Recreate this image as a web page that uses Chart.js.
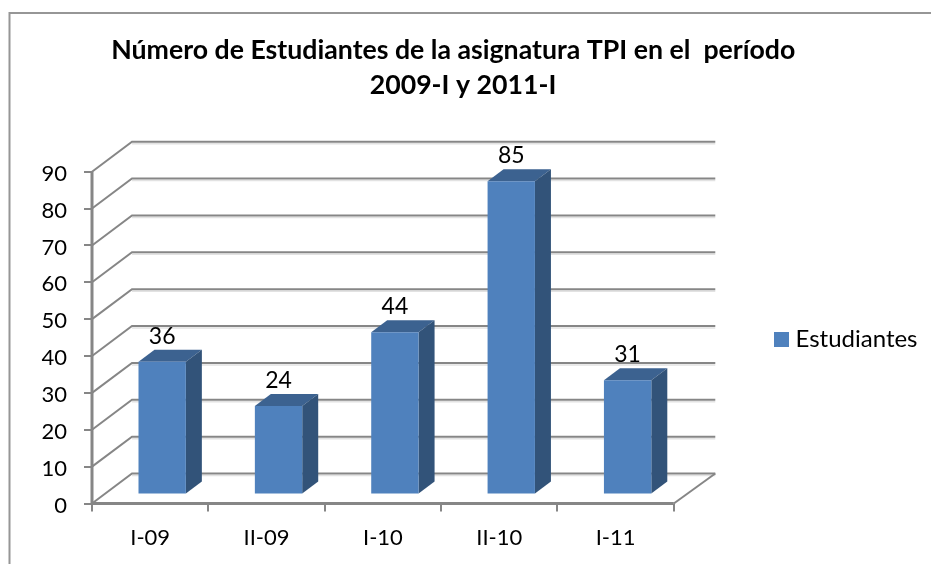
<!DOCTYPE html>
<html><head><meta charset="utf-8">
<style>html,body{margin:0;padding:0;background:#fff;overflow:hidden}#w{position:absolute;left:0;top:0;width:931px;height:564px}</style>
<script src="https://cdn.jsdelivr.net/npm/chart.js@4"></script></head>
<body><div id="w"><canvas id="c" width="931" height="564"></canvas></div>
<script>
const titleLines = ['Número de Estudiantes de la asignatura TPI en el  período   ', '2009-I y 2011-I'];
const categories = ['I-09', 'II-09', 'I-10', 'II-10', 'I-11'];
const seriesName = 'Estudiantes';
const estudiantes = [36, 24, 44, 85, 31];
const yTicks = [0,10,20,30,40,50,60,70,80,90];
const FONT = 'Lato, Carlito, "Noto Sans", sans-serif';

const DEPTH = {x: 40, y: -30};
const BACK_EXTRA = 1.5;
const BAR_OFF = {x: 12, y: -9};
const BAR_D = {x: 16, y: -12};
const AXIS = '#868686';

const threeD = {
  id: 'threeD',
  afterLayout(chart) {
    const lg = chart.legend; const w = lg.right - lg.left;
    lg.left = 773; lg.right = lg.left + w;
    lg.top += 2; lg.bottom += 2;
    const tb = chart.titleBlock;
    tb.left = 92; tb.right = 834;
    chart.scales.y.left = 0;
    chart.scales.x.bottom = chart.height;
    chart.scales.y.getLabelItems(chart.chartArea).forEach(i => { i.options.translation[1] += 2; });
  },
  beforeDraw(chart) {
    const {ctx, width, height} = chart;
    ctx.save();
    ctx.fillStyle = '#fff'; ctx.fillRect(0,0,width,height);
    ctx.strokeStyle = '#969696'; ctx.lineWidth = 2;
    ctx.beginPath(); ctx.moveTo(9.5,564); ctx.lineTo(9.5,13); ctx.lineTo(931,13); ctx.stroke();
    ctx.restore();
  },
  beforeDatasetsDraw(chart) {
    const {ctx, scales:{x,y}, chartArea:a} = chart;
    const backR = a.right + DEPTH.x + BACK_EXTRA;
    ctx.save();
    ctx.lineCap = 'butt';
    yTicks.forEach(v => {
      const p = y.getPixelForValue(v);
      ctx.lineWidth = 1.5;
      ctx.strokeStyle = '#e2e2e2';
      ctx.beginPath(); ctx.moveTo(a.left+DEPTH.x, p+DEPTH.y+2); ctx.lineTo(backR, p+DEPTH.y+2); ctx.stroke();
      ctx.lineWidth = 2;
      ctx.strokeStyle = AXIS;
      ctx.beginPath(); ctx.moveTo(a.left, p); ctx.lineTo(a.left+DEPTH.x, p+DEPTH.y); ctx.lineTo(backR, p+DEPTH.y); ctx.stroke();
    });
    const p0 = y.getPixelForValue(0);
    ctx.beginPath(); ctx.moveTo(a.right, p0); ctx.lineTo(backR, p0+DEPTH.y); ctx.stroke();
    ctx.lineWidth = 3;
    ctx.beginPath(); ctx.moveTo(a.left, y.getPixelForValue(90)); ctx.lineTo(a.left, p0); ctx.lineTo(a.right, p0); ctx.stroke();
    ctx.restore();
  },
  beforeDatasetDraw(chart) {
    const {ctx} = chart;
    const meta = chart.getDatasetMeta(0);
    ctx.save();
    meta.data.forEach(b => {
      const l = b.x - b.width/2 + BAR_OFF.x, r = b.x + b.width/2 + BAR_OFF.x;
      const t = b.y + BAR_OFF.y, bt = b.base + BAR_OFF.y;
      ctx.fillStyle = '#3c6290';
      ctx.beginPath(); ctx.moveTo(l,t); ctx.lineTo(l+BAR_D.x,t+BAR_D.y); ctx.lineTo(r+BAR_D.x,t+BAR_D.y); ctx.lineTo(r,t); ctx.closePath(); ctx.fill();
      ctx.fillStyle = '#325379';
      ctx.beginPath(); ctx.moveTo(r,t); ctx.lineTo(r+BAR_D.x,t+BAR_D.y); ctx.lineTo(r+BAR_D.x,bt+BAR_D.y); ctx.lineTo(r,bt); ctx.closePath(); ctx.fill();
    });
    ctx.translate(BAR_OFF.x, BAR_OFF.y);
  },
  afterDatasetDraw(chart) {
    const {ctx} = chart;
    ctx.restore();
    const meta = chart.getDatasetMeta(0);
    ctx.save();
    ctx.font = '23px ' + FONT; ctx.fillStyle = '#000'; ctx.textAlign = 'center'; ctx.textBaseline = 'alphabetic';
    meta.data.forEach((b,i) => {
      ctx.fillText(String(estudiantes[i]), b.x + BAR_OFF.x, b.y + BAR_OFF.y - 18);
    });
    ctx.restore();
  }
};

new Chart(document.getElementById('c'), {
  type: 'bar',
  data: {labels: categories, datasets: [{label: seriesName, data: estudiantes, backgroundColor: '#4f81bd',
    categoryPercentage: 1, barPercentage: 0.407}]},
  plugins: [threeD],
  options: {
    responsive: false, animation: false,
    layout: {padding: {left: 92, right: 102.7, top: 0, bottom: 60.5}, autoPadding: false},
    plugins: {
      legend: {display: true, position: 'right', fullSize: false, labels: {boxWidth: 4, boxHeight: 4, padding: 6.5, color: '#000', font: {family: FONT, size: 24},
        generateLabels(chart) {
          return Chart.defaults.plugins.legend.labels.generateLabels(chart).map(l => ({...l, strokeStyle: l.fillStyle, lineWidth: 11}));
        }}},
      tooltip: {enabled: false},
      title: {display: true, text: titleLines, color: '#000', fullSize: true,
        font: {family: FONT, size: 26.7, weight: 'bold', lineHeight: 35/26.7},
        padding: {top: 32.5, bottom: 69.2}}
    },
    scales: {
      x: {position:'bottom', afterFit(s){s.height = 0;},
          grid:{drawOnChartArea:false, drawTicks:true, tickLength:8, color:AXIS, lineWidth:2, offset:true},
          border:{display:false}, ticks:{color:'#000', font:{family:FONT,size:22}, padding:13, maxRotation:0}},
      y: {min:0, max:90, afterFit(s){s.width = 0;}, afterBuildTicks(s){s.ticks = yTicks.map(v=>({value:v}));},
          grid:{drawOnChartArea:false, drawTicks:true, tickLength:8, color:AXIS, lineWidth:2},
          border:{display:false}, ticks:{color:'#000', font:{family:FONT,size:22}, padding:17}}
    }
  }
});
</script>
</body></html>
